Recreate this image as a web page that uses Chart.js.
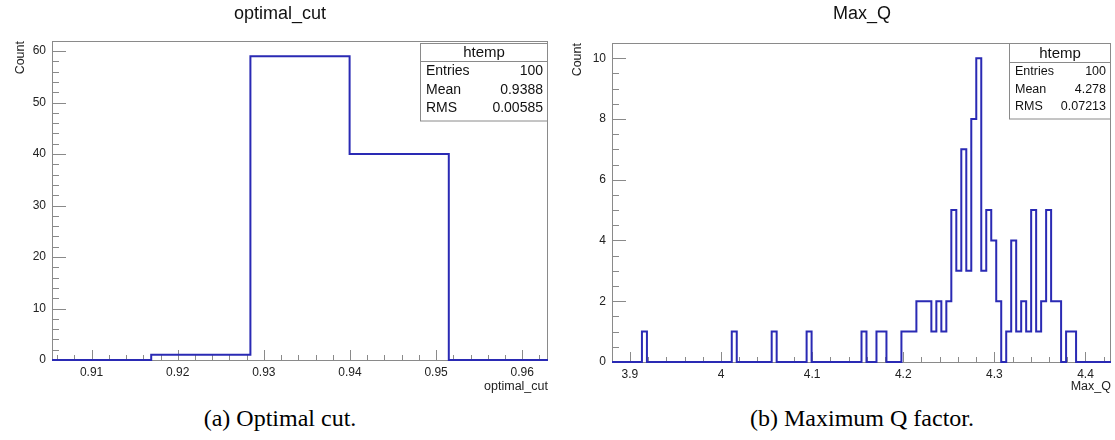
<!DOCTYPE html>
<html>
<head>
<meta charset="utf-8">
<script src="https://cdn.jsdelivr.net/npm/chart.js@4.4.1/dist/chart.umd.min.js"></script>
<style>
  html, body { margin: 0; padding: 0; background: #fff; }
  body { width: 1115px; height: 440px; position: relative; overflow: hidden;
         font-family: "Liberation Sans", Arial, sans-serif; }
  canvas { position: absolute; top: 0; }
  .title { position: absolute; top: 3px; width: 300px; margin-left: -150px;
           text-align: center; font-size: 18px; color: #111; }
  .caption { position: absolute; top: 405px; width: 400px; margin-left: -200px; text-align: center;
             font-family: "Liberation Serif", "Times New Roman", serif; font-size: 24px; color: #000; }
</style>
</head>
<body>
<canvas id="cut" width="557" height="400" style="left:0"></canvas>
<canvas id="maxq" width="558" height="400" style="left:557px"></canvas>
<div class="title" style="left:280px">optimal_cut</div>
<div class="title" style="left:862px">Max_Q</div>
<div class="caption" style="left:280px">(a) Optimal cut.</div>
<div class="caption" style="left:862px">(b) Maximum Q factor.</div>
<script>
// optimal_cut histogram: 5 bins over [0.9054, 0.963]
const cutRange = [0.9054, 0.963];
const cutCounts = [0, 1, 59, 40, 0];
const cutXTicks = [0.91, 0.92, 0.93, 0.94, 0.95, 0.96];
const cutXLabels = ["0.91", "0.92", "0.93", "0.94", "0.95", "0.96"];
const cutYTicks = [0, 10, 20, 30, 40, 50, 60];
const cutStats = ["100", "0.9388", "0.00585"];

// Max_Q histogram: 100 bins over [3.8803, 4.428]
const maxqRange = [3.8803, 4.428];
const maxqCounts = [
  0, 0, 0, 0, 0, 0, 1, 0, 0, 0,
  0, 0, 0, 0, 0, 0, 0, 0, 0, 0,
  0, 0, 0, 0, 1, 0, 0, 0, 0, 0,
  0, 0, 1, 0, 0, 0, 0, 0, 0, 1,
  0, 0, 0, 0, 0, 0, 0, 0, 0, 0,
  1, 0, 0, 1, 1, 0, 0, 0, 1, 1,
  1, 2, 2, 2, 1, 2, 1, 2, 5, 3,
  7, 3, 8, 10, 3, 5, 4, 2, 0, 1,
  4, 1, 2, 1, 5, 1, 2, 5, 2, 2,
  0, 1, 1, 0, 0, 0, 0, 0, 0, 0
];
const maxqXTicks = [3.9, 4.0, 4.1, 4.2, 4.3, 4.4];
const maxqXLabels = ["3.9", "4", "4.1", "4.2", "4.3", "4.4"];
const maxqYTicks = [0, 2, 4, 6, 8, 10];
const maxqStats = ["100", "4.278", "0.07213"];

const statLabels = ["Entries", "Mean", "RMS"];
const FONT = "'Liberation Sans', Arial, sans-serif";
const LINE = "#2a2ab4";
const FRAME = "#8a8a8a";

// outline points for a stepped line: one per bin low edge + the last high edge
function stepPoints(range, counts) {
  const w = (range[1] - range[0]) / counts.length;
  const pts = counts.map((c, i) => ({ x: range[0] + i * w, y: c }));
  pts.push({ x: range[1], y: counts[counts.length - 1] });
  return pts;
}

function minorValues(min, max, step) {
  const out = [];
  for (let i = Math.ceil(min / step - 1e-6); i * step <= max + 1e-9; i++) out.push(i * step);
  return out;
}

// ROOT-like frame with inward ticks, and the stats box
const rootFrame = {
  id: "rootFrame",
  beforeDatasetsDraw(chart, args, o) {
    const { ctx, chartArea: a, scales: { x, y } } = chart;
    ctx.save();
    ctx.strokeStyle = FRAME;
    ctx.lineWidth = 1;
    ctx.strokeRect(a.left + 0.5, a.top + 0.5, a.width - 1, a.height);
    ctx.beginPath();
    minorValues(x.min, x.max, o.xMinor).forEach(v => {
      const px = Math.round(x.getPixelForValue(v)) + 0.5;
      const major = x.ticks.some(t => Math.abs(t.value - v) < o.xMinor / 10);
      ctx.moveTo(px, a.bottom);
      ctx.lineTo(px, a.bottom - (major ? 10 : 5));
    });
    minorValues(y.min, y.max, o.yMinor).forEach(v => {
      const py = Math.round(y.getPixelForValue(v)) + 0.5;
      const major = y.ticks.some(t => Math.abs(t.value - v) < o.yMinor / 10);
      ctx.moveTo(a.left, py);
      ctx.lineTo(a.left + (major ? 14 : 7), py);
    });
    ctx.stroke();
    ctx.restore();
  },
  afterDatasetsDraw(chart, args, o) {
    const { ctx, chartArea: a } = chart;
    const r = a.right, l = r - o.boxWidth, t = a.top + o.boxTop;
    const h = o.headH + o.rowH * statLabels.length + 4;
    ctx.save();
    ctx.fillStyle = "#fff";
    ctx.fillRect(l, t, o.boxWidth, h);
    ctx.strokeStyle = FRAME;
    ctx.lineWidth = 1;
    ctx.strokeRect(l + 0.5, t + 0.5, o.boxWidth - 1, h);
    ctx.beginPath();
    ctx.moveTo(l, Math.round(t + o.headH) + 0.5);
    ctx.lineTo(r, Math.round(t + o.headH) + 0.5);
    ctx.stroke();
    ctx.fillStyle = "#111";
    ctx.textBaseline = "middle";
    ctx.textAlign = "center";
    ctx.font = o.headSize + "px " + FONT;
    ctx.fillText("htemp", l + o.boxWidth / 2, t + o.headH / 2 + 1);
    ctx.font = o.rowSize + "px " + FONT;
    statLabels.forEach((s, i) => {
      const yy = t + o.headH + o.rowH * (i + 0.5) + 1;
      ctx.textAlign = "left";
      ctx.fillText(s, l + 6, yy);
      ctx.textAlign = "right";
      ctx.fillText(o.values[i], r - 5, yy);
    });
    ctx.restore();
  }
};

function makeHist(id, cfg) {
  return new Chart(document.getElementById(id), {
    type: "line",
    data: {
      datasets: [{
        data: stepPoints(cfg.range, cfg.counts),
        stepped: "before",
        borderColor: LINE,
        borderWidth: 2,
        pointRadius: 0,
        fill: false,
        clip: false
      }]
    },
    options: {
      responsive: false,
      animation: false,
      devicePixelRatio: 1,
      layout: { padding: { top: cfg.top, right: cfg.right, left: 0, bottom: 0 } },
      plugins: {
        legend: { display: false },
        tooltip: { enabled: false },
        rootFrame: cfg.frame
      },
      scales: {
        x: {
          type: "linear",
          min: cfg.range[0],
          max: cfg.range[1],
          afterBuildTicks: s => { s.ticks = cfg.xTicks.map(v => ({ value: v })); },
          afterFit: s => { s.height = 400 - cfg.bottom; },
          grid: { display: false, drawTicks: false },
          border: { display: false },
          ticks: {
            color: "#222",
            font: { family: FONT, size: 12 },
            padding: 5,
            maxRotation: 0,
            autoSkip: false,
            callback: (v, i) => cfg.xLabels[i]
          },
          title: {
            display: true, text: cfg.xTitle, align: "end", color: "#222",
            font: { family: FONT, size: 12.5 }, padding: { top: 0, bottom: 6 }
          }
        },
        y: {
          min: 0,
          max: cfg.yMax,
          afterBuildTicks: s => { s.ticks = cfg.yTicks.map(v => ({ value: v })); },
          afterFit: s => { s.width = cfg.left; },
          grid: { display: false, drawTicks: false },
          border: { display: false },
          ticks: { color: "#222", font: { family: FONT, size: 12 }, padding: 6 },
          title: {
            display: true, text: "Count", align: "end", color: "#222",
            font: { family: FONT, size: 12.5 }, padding: { top: 13, bottom: 0 }
          }
        }
      }
    },
    plugins: [rootFrame]
  });
}

makeHist("cut", {
  range: cutRange, counts: cutCounts, xTicks: cutXTicks, xLabels: cutXLabels,
  yTicks: cutYTicks, yMax: 61.95, xTitle: "optimal_cut",
  top: 41, bottom: 360, left: 52, right: 9,
  frame: { xMinor: 0.002, yMinor: 2, values: cutStats, boxWidth: 128, boxTop: 2,
           headH: 18, rowH: 18.5, headSize: 15, rowSize: 14 }
});

makeHist("maxq", {
  range: maxqRange, counts: maxqCounts, xTicks: maxqXTicks, xLabels: maxqXLabels,
  yTicks: maxqYTicks, yMax: 10.5, xTitle: "Max_Q",
  top: 43, bottom: 362, left: 55, right: 4,
  frame: { xMinor: 0.02, yMinor: 0.5, values: maxqStats, boxWidth: 102, boxTop: 0,
           headH: 19, rowH: 17.5, headSize: 15, rowSize: 12.5 }
});
</script>
</body>
</html>
